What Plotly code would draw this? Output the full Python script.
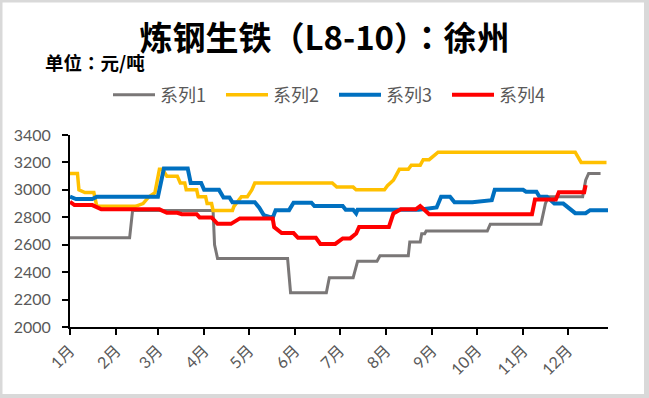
import plotly.graph_objects as go

# ---- data (x = day of year, y = 元/吨) ----
month_ticks = [0, 31, 59, 90, 120, 151, 181, 212, 243, 273, 304, 334]
month_labels = ["1月", "2月", "3月", "4月", "5月", "6月", "7月", "8月", "9月", "10月", "11月", "12月"]
y_ticks = [2000, 2200, 2400, 2600, 2800, 3000, 3200, 3400]

s1_day = [0, 40, 42, 96, 97, 99, 146, 148, 172, 173, 174, 190, 193, 206, 208, 227, 228, 235, 236, 238, 239,
          280, 282, 316, 319, 321, 344, 346, 348, 356]
s1_val = [2650, 2650, 2850, 2850, 2600, 2500, 2500, 2250, 2250, 2320, 2360, 2360, 2480, 2480, 2520, 2520, 2620,
          2620, 2680, 2680, 2700, 2700, 2750, 2750, 2900, 2950, 2950, 3070, 3120, 3120]

s2_day = [0, 5, 6, 10, 16, 18, 44, 49, 53, 57, 60, 62, 65, 72, 74, 77, 78, 85, 86, 91, 92, 95, 96, 109, 110,
          115, 119, 122, 124, 176, 179, 190, 192, 211, 213, 217, 221, 227, 229, 235, 237, 241, 247, 339, 343, 360]
s2_val = [3120, 3120, 3000, 2980, 2980, 2880, 2880, 2900, 2950, 2980, 3150, 3150, 3100, 3100, 3050, 3050, 3000,
          3000, 2950, 2950, 2900, 2900, 2850, 2850, 2880, 2950, 2950, 3000, 3050, 3050, 3020, 3020, 3000, 3000,
          3030, 3070, 3150, 3150, 3180, 3180, 3220, 3220, 3275, 3275, 3200, 3200]

s3_day = [0, 4, 15, 18, 59, 63, 79, 81, 88, 90, 100, 103, 107, 109, 124, 127, 130, 136, 138, 147, 150, 162,
          164, 183, 185, 190, 192, 193, 234, 246, 249, 255, 258, 270, 283, 285, 304, 306, 313, 315, 320, 325,
          331, 335, 339, 346, 349, 361]
s3_val = [2950, 2933, 2933, 2950, 2950, 3155, 3155, 3050, 3050, 3000, 3000, 2945, 2945, 2910, 2910, 2870, 2816,
          2795, 2852, 2852, 2906, 2906, 2882, 2882, 2855, 2855, 2828, 2855, 2855, 2872, 2950, 2950, 2910, 2910,
          2925, 3000, 3000, 2986, 2986, 2950, 2950, 2900, 2900, 2865, 2830, 2830, 2852, 2852]

s4_day = [0, 3, 15, 18, 21, 60, 65, 72, 75, 85, 87, 95, 99, 108, 110, 114, 136, 137, 142, 150, 153, 165, 168,
          178, 183, 188, 192, 194, 214, 217, 222, 232, 235, 241, 310, 312, 326, 328, 345, 346]
s4_val = [2913, 2889, 2889, 2872, 2858, 2858, 2833, 2833, 2823, 2823, 2799, 2799, 2752, 2752, 2767, 2792, 2792,
          2728, 2685, 2685, 2650, 2650, 2606, 2606, 2646, 2646, 2682, 2730, 2730, 2828, 2858, 2858, 2882, 2823,
          2823, 2930, 2930, 2982, 2982, 3035]

series_names = ["系列1", "系列2", "系列3", "系列4"]
series_colors = ["#7a7777", "#FFC000", "#0070C0", "#FF0000"]
series_widths = [3, 3.5, 4, 4]

FONT = "Lato, 'Noto Sans CJK SC', sans-serif"
CJK = "'Noto Sans CJK SC', sans-serif"
CJK_T = "'Noto Sans CJK TC', sans-serif"

fig = go.Figure()
for name, xs, ys, c, w in zip(series_names, [s1_day, s2_day, s3_day, s4_day], [s1_val, s2_val, s3_val, s4_val],
                              series_colors, series_widths):
    fig.add_trace(go.Scatter(x=xs, y=ys, mode="lines", name=name,
                             line=dict(color=c, width=w, shape="linear")))

W, H = 649, 398
L, R, T, B = 70, 41, 135, 71
pw, ph = W - L - R, H - T - B


def px2x(px):
    return (px - L) / pw


def py2y(py):
    return (H - B - py) / ph


fig.update_layout(
    width=W, height=H,
    margin=dict(l=L, r=R, t=T, b=B, autoexpand=False),
    paper_bgcolor="#d9d9d9",
    plot_bgcolor="white",
    font=dict(family=FONT, color="#595959", size=16),
    title=dict(text="<b>炼钢生铁（L8-10）：徐州</b>", x=0.5, xanchor="center",
               y=1 - 38 / H, yanchor="middle", yref="container",
               font=dict(family=CJK_T, size=33, color="black")),
    showlegend=True,
    legend=dict(orientation="h", x=px2x(334), xanchor="center", y=py2y(95), yanchor="middle",
                font=dict(family=CJK, size=18, color="#595959"), bgcolor="rgba(0,0,0,0)",
                itemwidth=42, entrywidth=56, entrywidthmode="pixels"),
    shapes=[dict(type="rect", xref="paper", yref="paper", layer="below",
                 x0=px2x(2.5), x1=px2x(644), y0=py2y(394), y1=py2y(2.5),
                 fillcolor="white", line=dict(width=0))],
    annotations=[dict(text="<b>单位：元/吨</b>", xref="paper", yref="paper", x=px2x(43), y=py2y(62),
                      xanchor="left", yanchor="middle", showarrow=False,
                      font=dict(family=CJK_T, size=18.5, color="black"))],
)

fig.update_xaxes(range=[0, 361], tickmode="array", tickvals=month_ticks, ticktext=month_labels,
                 tickangle=-45, showline=True, linecolor="black", linewidth=2, ticks="outside",
                 tickcolor="black", tickwidth=2, ticklen=6, showgrid=False, zeroline=False, automargin=False,
                 tickfont=dict(family=FONT, size=16, color="#595959"))
fig.update_yaxes(range=[2000, 3400], tickmode="array", tickvals=y_ticks, showline=True, linecolor="black",
                 linewidth=2, ticks="outside", tickcolor="black", tickwidth=2, ticklen=6, showgrid=False,
                 zeroline=False, automargin=False, ticklabelstandoff=8,
                 tickfont=dict(family=FONT, size=16, color="#595959"))

fig.write_html("out.html", config={"displayModeBar": False},
               post_script="document.body.style.margin='0px';")
